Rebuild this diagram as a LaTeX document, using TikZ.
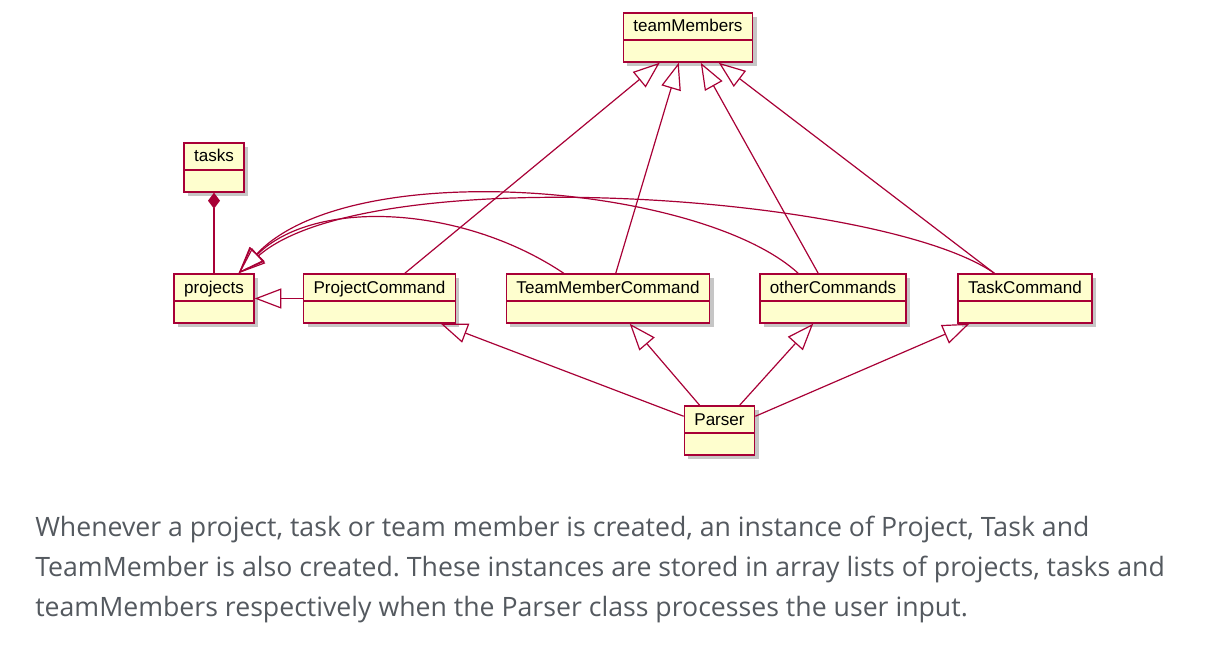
\documentclass[tikz,border=0pt]{standalone}
\usepackage{fontspec}
\newfontfamily\umlfont{Liberation Sans}
\newfontfamily\captionfont{Open Sans}
\usepackage{xcolor}
\usetikzlibrary{arrows.meta, shadows}
\definecolor{umlborder}{HTML}{A80036}
\definecolor{umlfill}{HTML}{FEFECE}
\definecolor{captiongray}{HTML}{54595F}
\frenchspacing

\begin{document}
\begin{tikzpicture}[
        x=0.75pt, y=-0.75pt,
        umlclass/.style={rectangle, draw=umlborder, fill=umlfill, line width=1.1pt,
            font=\umlfont\fontsize{12.8}{14}\selectfont, inner xsep=7.5pt, inner ysep=0pt,
            text height=14.25pt, text depth=22.5pt,
            drop shadow={shadow xshift=3pt, shadow yshift=-3pt, fill=black!50, opacity=0.45},
            path picture={\draw[umlborder, line width=1.1pt] ([shift={(0,27)}]path picture bounding box.north west) -- ([shift={(0,27)}]path picture bounding box.north east);}},
        link/.style={draw=umlborder, line width=0.9pt},
        extends/.style={link, -{Triangle[open, length=20pt, width=15pt]}},
        partof/.style={link, {Diamond[length=12pt, width=9pt]}-}
    ]
        \useasboundingbox (0,0) rectangle (1225,656);

        % Classes
        \node (teammembers) [umlclass] at (688,37.5) {teamMembers};
        \node (tasks) [umlclass] at (214,167.5) {tasks};
        \node (projects) [umlclass] at (214,298.5) {projects};
        \node (projectcmd) [umlclass] at (379.5,298.5) {ProjectCommand};
        \node (membercmd) [umlclass] at (608,298.5) {TeamMemberCommand};
        \node (othercmds) [umlclass] at (833,298.5) {otherCommands};
        \node (taskcmd) [umlclass] at (1025,298.5) {TaskCommand};
        \node (parser) [umlclass] at (719.5,430.5) {Parser};

        % tasks and projects
        \draw [partof] (tasks) -- (projects);
        \draw [extends] (projectcmd) -- (projects);

        % Curves into projects
        \draw [extends] ([shift={(58,0)}]membercmd.north west) .. controls +(-103,-69) and +(75,-75) .. ([shift={(-16,0)}]projects.north east);
        \draw [extends] ([shift={(39,0)}]othercmds.north west) .. controls +(-97,-89) and +(112,-119) .. ([shift={(-16,0)}]projects.north east);
        \draw [extends] ([shift={(37,0)}]taskcmd.north west) .. controls +(-113,-79) and +(130,-114) .. ([shift={(-16,0)}]projects.north east);

        % Commands up to teamMembers
        \draw [extends] ([shift={(102,0)}]projectcmd.north west) -- ([shift={(37,0)}]teammembers.south west);
        \draw [extends] ([shift={(110,0)}]membercmd.north west) -- ([shift={(56,0)}]teammembers.south west);
        \draw [extends] ([shift={(59,0)}]othercmds.north west) -- ([shift={(78,0)}]teammembers.south west);
        \draw [extends] ([shift={(37,0)}]taskcmd.north west) -- ([shift={(96,0)}]teammembers.south west);

        % Parser up to the commands
        \draw [extends] ([shift={(0,11)}]parser.north west) -- ([shift={(138,0)}]projectcmd.south west);
        \draw [extends] ([shift={(16,0)}]parser.north west) -- ([shift={(124,0)}]membercmd.south west);
        \draw [extends] ([shift={(56,0)}]parser.north west) -- ([shift={(54,0)}]othercmds.south west);
        \draw [extends] ([shift={(0,11)}]parser.north east) -- ([shift={(12,0)}]taskcmd.south west);

        % Caption
        \node (caption) [anchor=north west, align=left, inner sep=0pt, text=captiongray,
            font=\captionfont\fontsize{20}{30}\selectfont] at (35,516)
            {Whenever a project, task or team member is created, an instance of Project, Task and\\
             TeamMember is also created. These instances are stored in array lists of projects, tasks and\\
             teamMembers respectively when the Parser class processes the user input.};
    \end{tikzpicture}
\end{document}
